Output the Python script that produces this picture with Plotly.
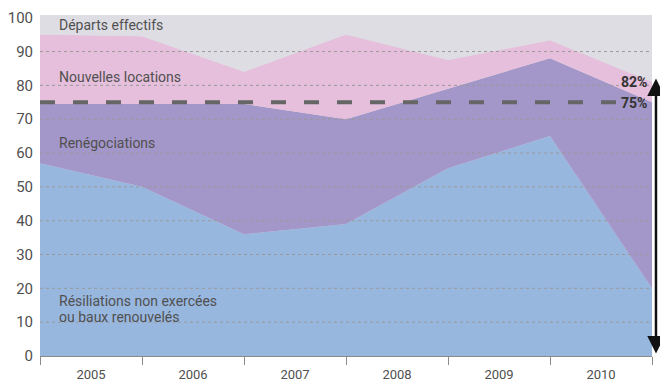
import plotly.graph_objects as go

# Data (positions 0..6 are year boundaries)
x_pos = [0, 1, 2, 3, 4, 5, 6]
years = ["2005", "2006", "2007", "2008", "2009", "2010"]
year_pos = [0.5, 1.5, 2.5, 3.5, 4.5, 5.5]
resiliations = [57, 50, 36, 39, 55.5, 65, 20]
renegociations = [17.5, 24.5, 38.5, 31, 23.5, 23, 55]
nouvelles = [20.5, 20, 9.5, 25, 8.5, 5.3, 6]
departs = [5, 5.5, 16, 5, 12.5, 6.7, 19]
seuil = 75
cible = 82
y_ticks = [0, 10, 20, 30, 40, 50, 60, 70, 80, 90, 100]

FONT = "Roboto"
TXT = "#505050"
GRAY = "#dedde3"

fig = go.Figure()
series = [
    (resiliations, "#98b7df"),
    (renegociations, "#a396c8"),
    (nouvelles, "#e5bfdb"),
    (departs, GRAY),
]
for vals, col in series:
    fig.add_trace(go.Scatter(x=x_pos, y=vals, stackgroup="one", mode="lines",
                             line=dict(width=0), fillcolor=col, hoverinfo="skip"))

# dashed threshold line stops short of its label
fig.add_trace(go.Scatter(x=[x_pos[0], x_pos[-1] - 0.24], y=[seuil, seuil], mode="lines",
                         line=dict(color="#666666", width=4, dash="15px,18px"),
                         hoverinfo="skip"))

shapes = []
for v in y_ticks[1:-1]:
    shapes.append(dict(type="line", xref="paper", x0=0, x1=1, yref="y", y0=v, y1=v,
                       layer="above", line=dict(color="#9a9a9a", width=1, dash="3px,3px")))

annotations = [
    dict(x=0.17, y=97.9, text="Départs effectifs", yanchor="middle"),
    dict(x=0.17, y=82.5, text="Nouvelles locations", yanchor="middle"),
    dict(x=0.17, y=63, text="Renégociations", yanchor="middle"),
    dict(x=0.17, y=13.9, text="Résiliations non exercées", yanchor="bottom", yshift=-2),
    dict(x=0.17, y=13.9, text="ou baux renouvelés", yanchor="top", yshift=2),
]
annotations = [dict(a, xref="x", yref="y", xanchor="left", showarrow=False,
                    align="left", font=dict(family=FONT, size=14, color=TXT)) for a in annotations]
annotations += [
    dict(x=5.97, y=cible - 1, text="<b>82%</b>", xref="x", yref="y", xanchor="right",
         yanchor="middle", showarrow=False, font=dict(family=FONT, size=14, color="#333")),
    dict(x=5.97, y=seuil - 0.3, text="<b>75%</b>", xref="x", yref="y", xanchor="right",
         yanchor="middle", showarrow=False, font=dict(family=FONT, size=14, color="#333")),
    dict(x=1.0065, y=cible, ax=1.0065, ay=0.3, xref="x domain", yref="y", axref="x domain",
         ayref="y", text="", showarrow=True, arrowhead=2, startarrowhead=2,
         arrowside="end+start", arrowsize=1.4, arrowwidth=2.5, arrowcolor="#111"),
]

fig.update_layout(
    width=660, height=383,
    margin=dict(l=40, r=8, t=15, b=27),
    paper_bgcolor="white", plot_bgcolor=GRAY,
    showlegend=False,
    shapes=shapes,
    annotations=annotations,
    xaxis=dict(range=[0, 6], tickvals=year_pos, ticktext=years, ticks="",
               showgrid=False, zeroline=False, showline=True, linecolor="#8a8a8a",
               linewidth=1, ticklabelstandoff=6, automargin=False,
               tickfont=dict(family=FONT, size=13, color=TXT),
               minor=dict(tickvals=x_pos, ticks="outside", ticklen=8, tickcolor="#8a8a8a",
                          showgrid=False)),
    yaxis=dict(range=[0, 100.8], tickvals=y_ticks, showgrid=False, zeroline=False,
               showline=False, ticks="", ticklabelstandoff=6, automargin=False,
               tickfont=dict(family=FONT, size=15, color=TXT)),
)

fig.write_html("out.html")
